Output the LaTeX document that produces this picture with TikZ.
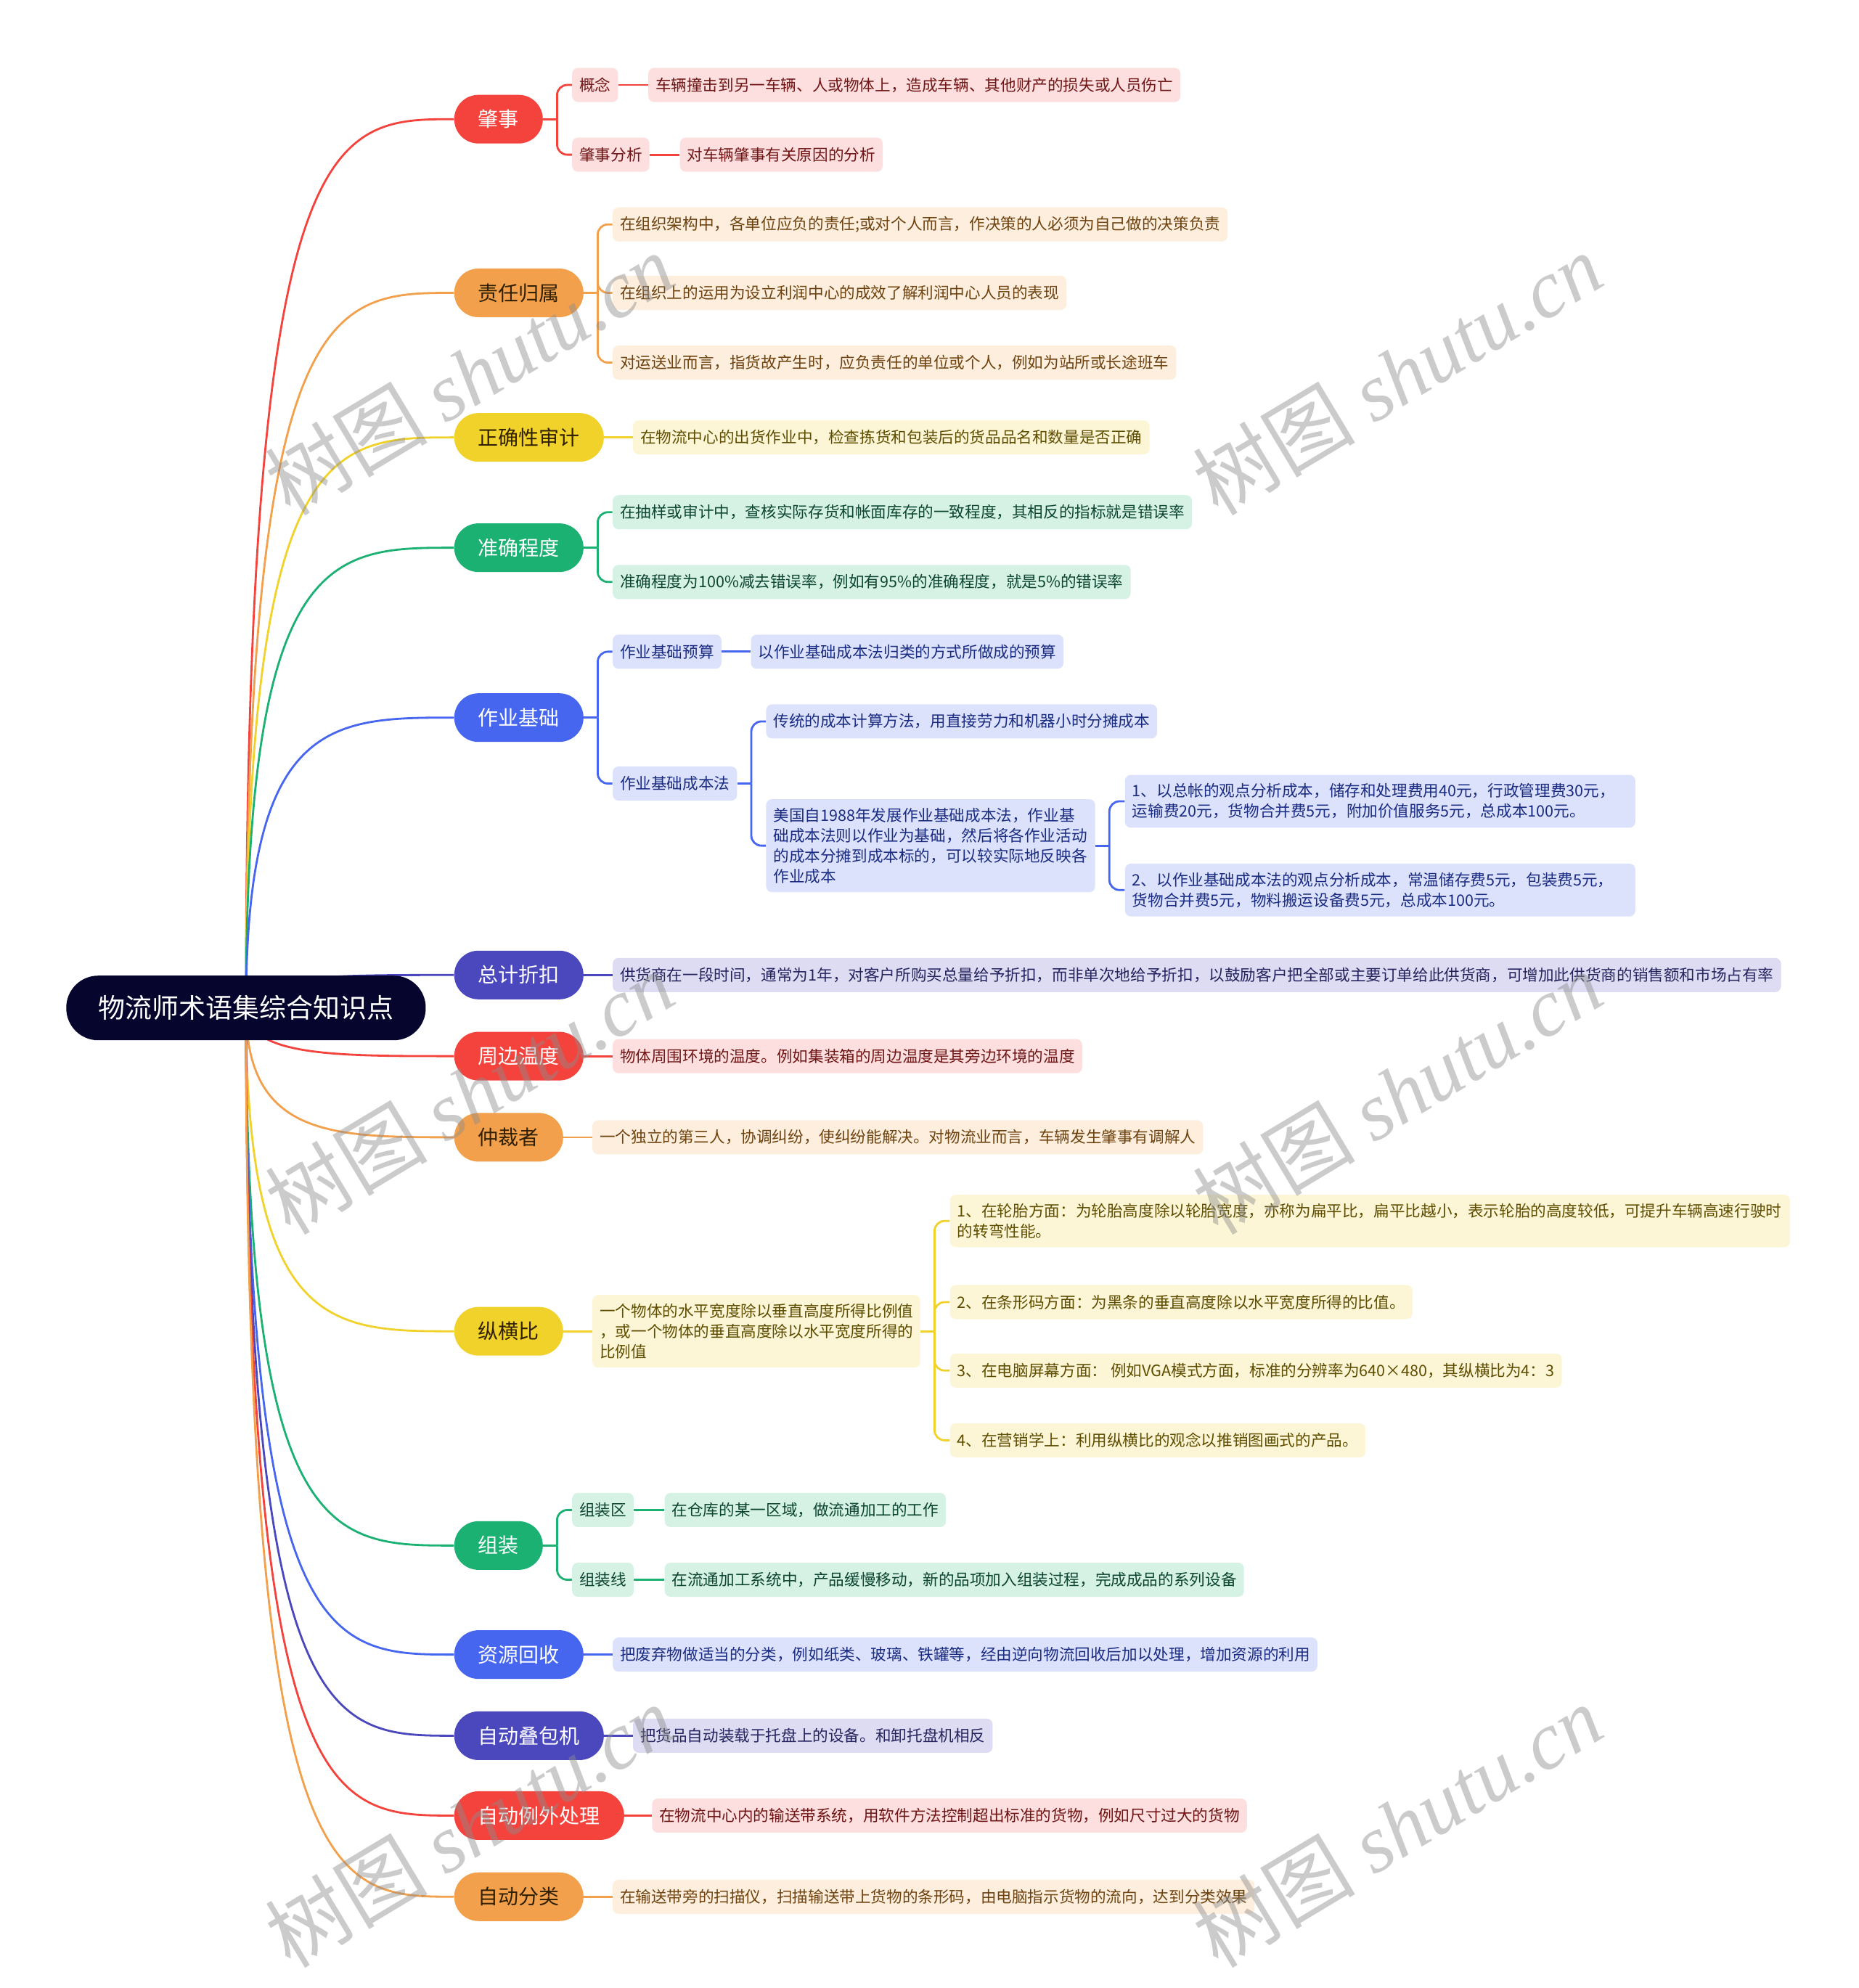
\documentclass[tikz,border=0pt]{standalone}
\usepackage{fontspec}
\setmainfont{Noto Sans CJK SC}
\newfontfamily\wmlatin{Liberation Serif}
\usetikzlibrary{calc,backgrounds}
\definecolor{cRed}{HTML}{F4433C}
\definecolor{cOra}{HTML}{F2A04B}
\definecolor{cYel}{HTML}{F1D22B}
\definecolor{cGrn}{HTML}{1BB173}
\definecolor{cBlu}{HTML}{4766F0}
\definecolor{cInd}{HTML}{4B48BE}
\definecolor{cRoot}{HTML}{05052E}
\definecolor{fRed}{HTML}{FDDFDF}
\definecolor{fOra}{HTML}{FDEEDD}
\definecolor{fYel}{HTML}{FDF6D6}
\definecolor{fGrn}{HTML}{D5F2E5}
\definecolor{fBlu}{HTML}{DCE2FB}
\definecolor{fInd}{HTML}{DDDCF3}
\definecolor{tRed}{HTML}{701515}
\definecolor{tOra}{HTML}{6E420F}
\definecolor{tYel}{HTML}{5E4D00}
\definecolor{tGrn}{HTML}{0C4530}
\definecolor{tBlu}{HTML}{1A2B82}
\definecolor{tInd}{HTML}{25245E}
\definecolor{tDark}{HTML}{302000}
\begin{document}
\begin{tikzpicture}[x=0.8731pt,y={(0pt,-0.8731pt)},
  rootbox/.style={fill=cRoot,text=white,rounded corners=22pt,minimum height=44.5pt,inner xsep=22pt,inner ysep=0pt,font=\fontsize{18.5}{22}\selectfont},
  lone/.style={rounded corners=16.7pt,minimum height=33.5pt,inner xsep=16.5pt,inner ysep=0pt,font=\fontsize{14}{16}\selectfont,anchor=west},
  leaf/.style={rounded corners=4pt,minimum height=23.5pt,inner xsep=5pt,inner ysep=6pt,font=\fontsize{10.8}{14}\selectfont,anchor=west,align=left},
  lRed/.style={lone,fill=cRed,text=white},
  lOra/.style={lone,fill=cOra,text=tDark},
  lYel/.style={lone,fill=cYel,text=tDark},
  lGrn/.style={lone,fill=cGrn,text=white},
  lBlu/.style={lone,fill=cBlu,text=white},
  lInd/.style={lone,fill=cInd,text=white},
  kRed/.style={leaf,fill=fRed,text=tRed},
  kOra/.style={leaf,fill=fOra,text=tOra},
  kYel/.style={leaf,fill=fYel,text=tYel},
  kGrn/.style={leaf,fill=fGrn,text=tGrn},
  kBlu/.style={leaf,fill=fBlu,text=tBlu},
  kInd/.style={leaf,fill=fInd,text=tInd},
  conn/.style={line width=1.4pt},
  brk/.style={line width=1.4pt,rounded corners=7pt},
  wm/.style={text=black!45,opacity=0.45,rotate=31,font=\fontsize{56}{60}\selectfont}
]
\useasboundingbox (0,0) rectangle (1466,1568);
% root
\node[rootbox] (R) at (194,795) {物流师术语集综合知识点};
% level 1
\node[lRed] (n1) at (358,94) {肇事};
\node[lOra] (n2) at (358,231) {责任归属};
\node[lYel] (n3) at (358,345) {正确性审计};
\node[lGrn] (n4) at (358,432) {准确程度};
\node[lBlu] (n5) at (358,566) {作业基础};
\node[lInd] (n6) at (358,769) {总计折扣};
\node[lRed] (n7) at (358,833) {周边温度};
\node[lOra] (n8) at (358,897) {仲裁者};
\node[lYel] (n9) at (358,1050) {纵横比};
\node[lGrn] (n10) at (358,1219) {组装};
\node[lBlu] (n11) at (358,1305) {资源回收};
\node[lInd] (n12) at (358,1369) {自动叠包机};
\node[lRed] (n13) at (358,1432) {自动例外处理};
\node[lOra] (n14) at (358,1496) {自动分类};
% branch 1
\node[kRed] (a1) at (451,67) {概念};
\node[kRed] (a1d) at (511,67) {车辆撞击到另一车辆、人或物体上，造成车辆、其他财产的损失或人员伤亡};
\node[kRed] (a2) at (451,122) {肇事分析};
\node[kRed] (a2d) at (536,122) {对车辆肇事有关原因的分析};
% branch 2
\node[kOra] (b1) at (483,177) {在组织架构中，各单位应负的责任;或对个人而言，作决策的人必须为自己做的决策负责};
\node[kOra] (b2) at (483,231) {在组织上的运用为设立利润中心的成效了解利润中心人员的表现};
\node[kOra] (b3) at (483,286) {对运送业而言，指货故产生时，应负责任的单位或个人，例如为站所或长途班车};
% branch 3
\node[kYel] (c1) at (499,345) {在物流中心的出货作业中，检查拣货和包装后的货品品名和数量是否正确};
% branch 4
\node[kGrn] (d1) at (483,404) {在抽样或审计中，查核实际存货和帐面库存的一致程度，其相反的指标就是错误率};
\node[kGrn] (d2) at (483,459) {准确程度为100\%减去错误率，例如有95\%的准确程度，就是5\%的错误率};
% branch 5
\node[kBlu] (e1) at (483,514) {作业基础预算};
\node[kBlu] (e1d) at (592,514) {以作业基础成本法归类的方式所做成的预算};
\node[kBlu] (e2) at (483,618) {作业基础成本法};
\node[kBlu] (e21) at (604,569) {传统的成本计算方法，用直接劳力和机器小时分摊成本};
\node[kBlu,text width=216.5pt] (e22) at (604,667) {美国自1988年发展作业基础成本法，作业基\\础成本法则以作业为基础，然后将各作业活动\\的成本分摊到成本标的，可以较实际地反映各\\作业成本};
\node[kBlu,text width=341.4pt] (e221) at (887,632) {1、以总帐的观点分析成本，储存和处理费用40元，行政管理费30元，\\运输费20元，货物合并费5元，附加价值服务5元，总成本100元。};
\node[kBlu,text width=341.4pt] (e222) at (887,702) {2、以作业基础成本法的观点分析成本，常温储存费5元，包装费5元，\\货物合并费5元，物料搬运设备费5元，总成本100元。};
% branch 6-8
\node[kInd] (f1) at (483,769) {供货商在一段时间，通常为1年，对客户所购买总量给予折扣，而非单次地给予折扣，以鼓励客户把全部或主要订单给此供货商，可增加此供货商的销售额和市场占有率};
\node[kRed] (g1) at (483,833) {物体周围环境的温度。例如集装箱的周边温度是其旁边环境的温度};
\node[kOra] (h1) at (467,897) {一个独立的第三人，协调纠纷，使纠纷能解决。对物流业而言，车辆发生肇事有调解人};
% branch 9
\node[kYel,text width=215.7pt] (i1) at (467,1050) {一个物体的水平宽度除以垂直高度所得比例值\\，或一个物体的垂直高度除以水平宽度所得的\\比例值};
\node[kYel,text width=568.4pt] (i11) at (749,963) {1、在轮胎方面：为轮胎高度除以轮胎宽度，亦称为扁平比，扁平比越小，表示轮胎的高度较低，可提升车辆高速行驶时\\的转弯性能。};
\node[kYel] (i12) at (749,1027) {2、在条形码方面：为黑条的垂直高度除以水平宽度所得的比值。};
\node[kYel] (i13) at (749,1081) {3、在电脑屏幕方面： 例如VGA模式方面，标准的分辨率为640×480，其纵横比为4：3};
\node[kYel] (i14) at (749,1136) {4、在营销学上：利用纵横比的观念以推销图画式的产品。};
% branch 10
\node[kGrn] (j1) at (451,1191) {组装区};
\node[kGrn] (j1d) at (524,1191) {在仓库的某一区域，做流通加工的工作};
\node[kGrn] (j2) at (451,1246) {组装线};
\node[kGrn] (j2d) at (524,1246) {在流通加工系统中，产品缓慢移动，新的品项加入组装过程，完成成品的系列设备};
% branch 11-14
\node[kBlu] (k1) at (483,1305) {把废弃物做适当的分类，例如纸类、玻璃、铁罐等，经由逆向物流回收后加以处理，增加资源的利用};
\node[kInd] (l1) at (499,1369) {把货品自动装载于托盘上的设备。和卸托盘机相反};
\node[kRed] (m1) at (514,1432) {在物流中心内的输送带系统，用软件方法控制超出标准的货物，例如尺寸过大的货物};
\node[kOra] (o1) at (483,1496) {在输送带旁的扫描仪，扫描输送带上货物的条形码，由电脑指示货物的流向，达到分类效果};

\begin{scope}[on background layer]
\fill[white] (0,0) rectangle (1466,1568);
% root connectors
\foreach \n/\c/\y in {n1/cRed/94,n2/cOra/231,n3/cYel/345,n4/cGrn/432,n5/cBlu/566,n6/cInd/769,n7/cRed/833,n8/cOra/897,n9/cYel/1050,n10/cGrn/1219,n11/cBlu/1305,n12/cInd/1369,n13/cRed/1432,n14/cOra/1496}
  \draw[conn,\c] (R.center) .. controls (194,\y) and (262,\y) .. (\n.west);
% forks
\coordinate (n1f) at ($(n1.east)+(11,0)$);
\coordinate (n2f) at ($(n2.east)+(11,0)$);
\coordinate (n4f) at ($(n4.east)+(11,0)$);
\coordinate (n5f) at ($(n5.east)+(11,0)$);
\coordinate (e2f) at ($(e2.east)+(11,0)$);
\coordinate (e22f) at ($(e22.east)+(11,0)$);
\coordinate (i1f) at ($(i1.east)+(11,0)$);
\coordinate (n10f) at ($(n10.east)+(11,0)$);
% red
\draw[conn,cRed] (n1.east) -- (n1f);
\draw[brk,cRed] (n1f) |- (a1.west);
\draw[brk,cRed] (n1f) |- (a2.west);
\draw[conn,cRed] (a1.east) -- (a1d.west);
\draw[conn,cRed] (a2.east) -- (a2d.west);
% orange
\draw[conn,cOra] (n2.east) -- (n2f);
\draw[brk,cOra] (n2f) |- (b1.west);
\draw[brk,cOra] (n2f) |- (b2.west);
\draw[brk,cOra] (n2f) |- (b3.west);
% yellow
\draw[conn,cYel] (n3.east) -- (c1.west);
% green
\draw[conn,cGrn] (n4.east) -- (n4f);
\draw[brk,cGrn] (n4f) |- (d1.west);
\draw[brk,cGrn] (n4f) |- (d2.west);
% blue
\draw[conn,cBlu] (n5.east) -- (n5f);
\draw[brk,cBlu] (n5f) |- (e1.west);
\draw[brk,cBlu] (n5f) |- (e2.west);
\draw[conn,cBlu] (e1.east) -- (e1d.west);
\draw[conn,cBlu] (e2.east) -- (e2f);
\draw[brk,cBlu] (e2f) |- (e21.west);
\draw[brk,cBlu] (e2f) |- (e22.west);
\draw[conn,cBlu] (e22.east) -- (e22f);
\draw[brk,cBlu] (e22f) |- (e221.west);
\draw[brk,cBlu] (e22f) |- (e222.west);
% singles
\draw[conn,cInd] (n6.east) -- (f1.west);
\draw[conn,cRed] (n7.east) -- (g1.west);
\draw[conn,cOra] (n8.east) -- (h1.west);
\draw[conn,cYel] (n9.east) -- (i1.west);
\draw[conn,cYel] (i1.east) -- (i1f);
\draw[brk,cYel] (i1f) |- (i11.west);
\draw[brk,cYel] (i1f) |- (i12.west);
\draw[brk,cYel] (i1f) |- (i13.west);
\draw[brk,cYel] (i1f) |- (i14.west);
\draw[conn,cGrn] (n10.east) -- (n10f);
\draw[brk,cGrn] (n10f) |- (j1.west);
\draw[brk,cGrn] (n10f) |- (j2.west);
\draw[conn,cGrn] (j1.east) -- (j1d.west);
\draw[conn,cGrn] (j2.east) -- (j2d.west);
\draw[conn,cBlu] (n11.east) -- (k1.west);
\draw[conn,cInd] (n12.east) -- (l1.west);
\draw[conn,cRed] (n13.east) -- (m1.west);
\draw[conn,cOra] (n14.east) -- (o1.west);
\end{scope}
% watermarks
\foreach \wx/\wy [count=\i] in {370/295,1102/295,370/862,1102/862,370/1440,1102/1440}
  \node[wm] (wm\i) at (\wx,\wy) {树图 {\wmlatin\itshape shutu.cn}};
\end{tikzpicture}
\end{document}
